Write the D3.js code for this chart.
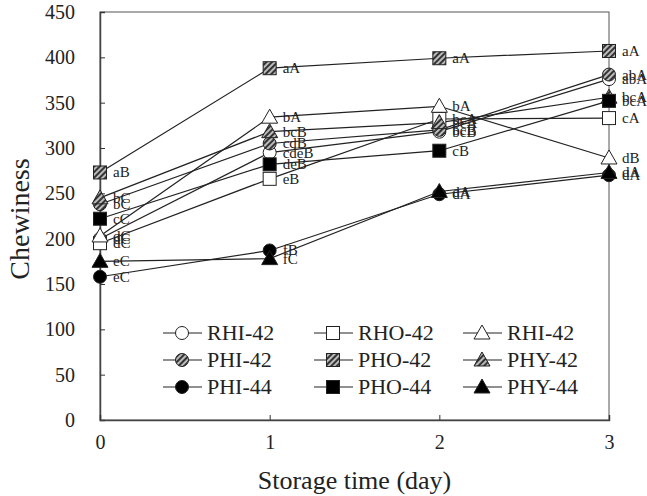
<!DOCTYPE html>
<html>
<head>
<meta charset="utf-8">
<script src="https://cdn.jsdelivr.net/npm/d3@7"></script>
<style>
  body { margin: 0; background: #fff; }
  text { font-family: "Liberation Serif", "Times New Roman", serif; fill: #222; }
</style>
</head>
<body>
<svg id="chart" width="647" height="496"></svg>
<script>
const days = [0, 1, 2, 3];
const yTicks = [0, 50, 100, 150, 200, 250, 300, 350, 400, 450];

const seriesNames = ["RHI-42", "RHO-42", "RHI-42b", "PHI-42", "PHO-42", "PHY-42", "PHI-44", "PHO-44", "PHY-44"];
const legendLabels = ["RHI-42", "RHO-42", "RHI-42", "PHI-42", "PHO-42", "PHY-42", "PHI-44", "PHO-44", "PHY-44"];
const shapes = ["circle", "square", "triangle", "circle", "square", "triangle", "circle", "square", "triangle"];
const fills = ["open", "open", "open", "hatch", "hatch", "hatch", "solid", "solid", "solid"];

const rhi42 = [200, 295, 318, 376];
const rho42 = [195, 266, 332, 333];
const rhi42t = [203, 334, 346, 289];
const phi42 = [238, 305, 320, 381];
const pho42 = [273, 388, 399, 407];
const phy42 = [245, 318, 328, 356];
const phi44 = [158, 187, 249, 270];
const pho44 = [222, 282, 297, 352];
const phy44 = [175, 178, 252, 273];

const rhi42Letters = ["dC", "cdeB", "bcB", "abA"];
const rho42Letters = ["dC", "eB", "bcA", "cA"];
const rhi42tLetters = ["dC", "bA", "bA", "dB"];
const phi42Letters = ["bC", "cdB", "bcB", "abA"];
const pho42Letters = ["aB", "aA", "aA", "aA"];
const phy42Letters = ["bC", "bcB", "bcA", "bcA"];
const phi44Letters = ["eC", "fB", "dA", "dA"];
const pho44Letters = ["cC", "deB", "cB", "bcA"];
const phy44Letters = ["eC", "fC", "dA", "dA"];

const values = [rhi42, rho42, rhi42t, phi42, pho42, phy42, phi44, pho44, phy44];
const letters = [rhi42Letters, rho42Letters, rhi42tLetters, phi42Letters, pho42Letters, phy42Letters, phi44Letters, pho44Letters, phy44Letters];

const svg = d3.select("#chart");
const margin = { left: 100, right: 38, top: 12, bottom: 76 };
const width = 647 - margin.left - margin.right;
const height = 496 - margin.top - margin.bottom;

// diagonal hatch fill
const defs = svg.append("defs");
const pat = defs.append("pattern")
    .attr("id", "hatch")
    .attr("patternUnits", "userSpaceOnUse")
    .attr("width", 4).attr("height", 4)
    .attr("patternTransform", "rotate(45)");
pat.append("rect").attr("width", 4).attr("height", 4).attr("fill", "#bbb");
pat.append("rect").attr("width", 2).attr("height", 4).attr("fill", "#333");

const g = svg.append("g").attr("transform", `translate(${margin.left},${margin.top})`);

const x = d3.scaleLinear().domain([0, 3]).range([0, width]);
const y = d3.scaleLinear().domain([0, 450]).range([height, 0]);

// frame
g.append("rect")
    .attr("width", width).attr("height", height)
    .attr("fill", "none").attr("stroke", "#555").attr("stroke-width", 1);

const yAxis = g.append("g")
    .call(d3.axisLeft(y).tickValues(yTicks).tickSize(-5).tickPadding(25));
const xAxis = g.append("g")
    .attr("transform", `translate(0,${height})`)
    .call(d3.axisBottom(x).tickValues(days).tickSize(-5).tickPadding(15).tickFormat(d3.format("d")));
[yAxis, xAxis].forEach(a => {
    a.select(".domain").attr("stroke", "#444").attr("stroke-width", 1.5);
    a.selectAll(".tick line").attr("stroke", "#333");
    a.selectAll("text").attr("font-size", 20).attr("font-family", "Liberation Serif, serif").attr("fill", "#222");
});

svg.append("text")
    .attr("x", margin.left + width / 2).attr("y", 489)
    .attr("text-anchor", "middle").attr("font-size", 26)
    .text("Storage time (day)");
svg.append("text")
    .attr("transform", `translate(29,${margin.top + height / 2 + 3}) rotate(-90)`)
    .attr("text-anchor", "middle").attr("font-size", 28)
    .text("Chewiness");

function fillOf(f) {
    return f === "open" ? "#fff" : f === "hatch" ? "url(#hatch)" : "#000";
}

function drawMarker(sel, shape, fill, cx, cy) {
    const f = fillOf(fill);
    if (shape === "circle") {
        sel.append("circle").attr("cx", cx).attr("cy", cy).attr("r", 6.5)
            .attr("fill", f).attr("stroke", "#222").attr("stroke-width", 1);
    } else if (shape === "square") {
        sel.append("rect").attr("x", cx - 6.5).attr("y", cy - 6.5).attr("width", 13).attr("height", 13)
            .attr("fill", f).attr("stroke", "#222").attr("stroke-width", 1);
    } else {
        const s = 8;
        sel.append("path")
            .attr("d", `M${cx},${cy - s}L${cx + s},${cy + s * 0.75}L${cx - s},${cy + s * 0.75}Z`)
            .attr("fill", f).attr("stroke", "#222").attr("stroke-width", 1);
    }
}

const line = d3.line().x((d, i) => x(days[i])).y(d => y(d));

values.forEach((vals, s) => {
    g.append("path").datum(vals)
        .attr("d", line)
        .attr("fill", "none").attr("stroke", "#222").attr("stroke-width", 1.2);
});

values.forEach((vals, s) => {
    const mg = g.append("g");
    vals.forEach((v, i) => drawMarker(mg, shapes[s], fills[s], x(days[i]), y(v)));
});

values.forEach((vals, s) => {
    g.append("g").selectAll("text").data(vals).join("text")
        .attr("x", (d, i) => x(days[i]) + 13)
        .attr("y", d => y(d) + 5)
        .attr("font-size", 15)
        .attr("fill", "#444")
        .text((d, i) => letters[s][i]);
});

// legend
const legX = [163, 314, 463];
const legY = [333, 360, 387];
seriesNames.forEach((name, s) => {
    const col = s % 3, row = Math.floor(s / 3);
    const lx = legX[col], ly = legY[row];
    const lg = svg.append("g");
    lg.append("line").attr("x1", lx).attr("x2", lx + 39).attr("y1", ly).attr("y2", ly)
        .attr("stroke", "#222").attr("stroke-width", 1.2);
    drawMarker(lg, shapes[s], fills[s], lx + 19, ly);
    lg.append("text").attr("x", lx + 44).attr("y", ly + 7)
        .attr("font-size", 22).text(legendLabels[s]);
});
</script>
</body>
</html>
